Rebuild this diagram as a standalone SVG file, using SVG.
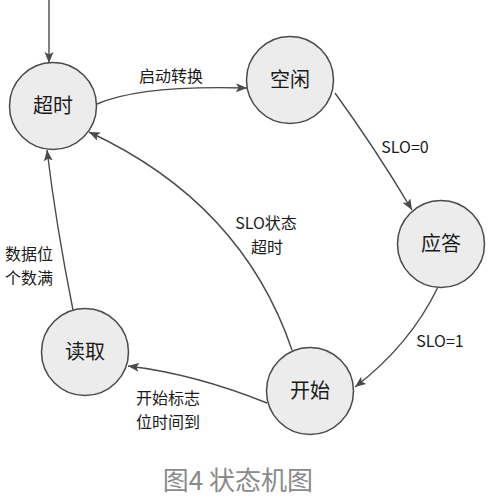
<svg xmlns="http://www.w3.org/2000/svg" width="489" height="499" viewBox="0 0 489 499">
  <style>
    .node circle { fill: #ececec; stroke: #4a4a4a; stroke-width: 1.5; }
    .node text { font-family: "Noto Sans CJK SC", "Noto Sans", sans-serif; font-size: 20px; fill: #1a1a1a; text-anchor: middle; }
    .edge { fill: none; stroke: #4a4a4a; stroke-width: 1.4; marker-end: url(#arrow); }
    .lbl { font-family: "Noto Sans CJK SC", "Noto Sans", sans-serif; font-size: 16px; fill: #1a1a1a; text-anchor: middle; }
    .cap { font-family: "Noto Sans CJK SC", "Noto Sans", sans-serif; font-size: 26px; fill: #8a8a8a; text-anchor: middle; }
  </style>
  <defs>
    <marker id="arrow" markerUnits="userSpaceOnUse" markerWidth="12" markerHeight="10" refX="11" refY="4.5" orient="auto">
      <path d="M0,0 L11,4.5 L0,9 L2.5,4.5 z" fill="#4a4a4a"/>
    </marker>
  </defs>
  <rect width="489" height="499" fill="#ffffff"/>

  <g id="connectors">
    <path class="edge" d="M49,0 L49,63"/>
    <path class="edge" d="M97,104 Q140,85 247,88"/>
    <path class="edge" d="M335,93 Q375,148 412,210"/>
    <path class="edge" d="M438,287 Q410,345 355,387"/>
    <path class="edge" d="M292,350 Q242,203 89,132"/>
    <path class="edge" d="M267,403 Q195,374 128,366"/>
    <path class="edge" d="M73,310 Q56,225 47,150"/>
  </g>

  <g id="edge-labels">
    <text class="lbl" x="171" y="82">启动转换</text>
    <text class="lbl" x="405" y="153">SLO=0</text>
    <text class="lbl" x="440" y="347">SLO=1</text>
    <text class="lbl" x="266" y="229">SLO状态</text>
    <text class="lbl" x="267" y="253">超时</text>
    <text class="lbl" x="29" y="260">数据位</text>
    <text class="lbl" x="29" y="284">个数满</text>
    <text class="lbl" x="168" y="404">开始标志</text>
    <text class="lbl" x="168" y="428">位时间到</text>
  </g>

  <g id="node-timeout" class="node">
    <circle cx="53" cy="106" r="43.5"/>
    <text x="53" y="113">超时</text>
  </g>
  <g id="node-idle" class="node">
    <circle cx="290" cy="80" r="43.5"/>
    <text x="290" y="87">空闲</text>
  </g>
  <g id="node-ack" class="node">
    <circle cx="441" cy="244" r="43.5"/>
    <text x="441" y="251">应答</text>
  </g>
  <g id="node-read" class="node">
    <circle cx="85" cy="352" r="43.5"/>
    <text x="85" y="359">读取</text>
  </g>
  <g id="node-start" class="node">
    <circle cx="310" cy="391" r="43.5"/>
    <text x="310" y="398">开始</text>
  </g>

  <text class="cap" x="238" y="490">图4 状态机图</text>
</svg>
